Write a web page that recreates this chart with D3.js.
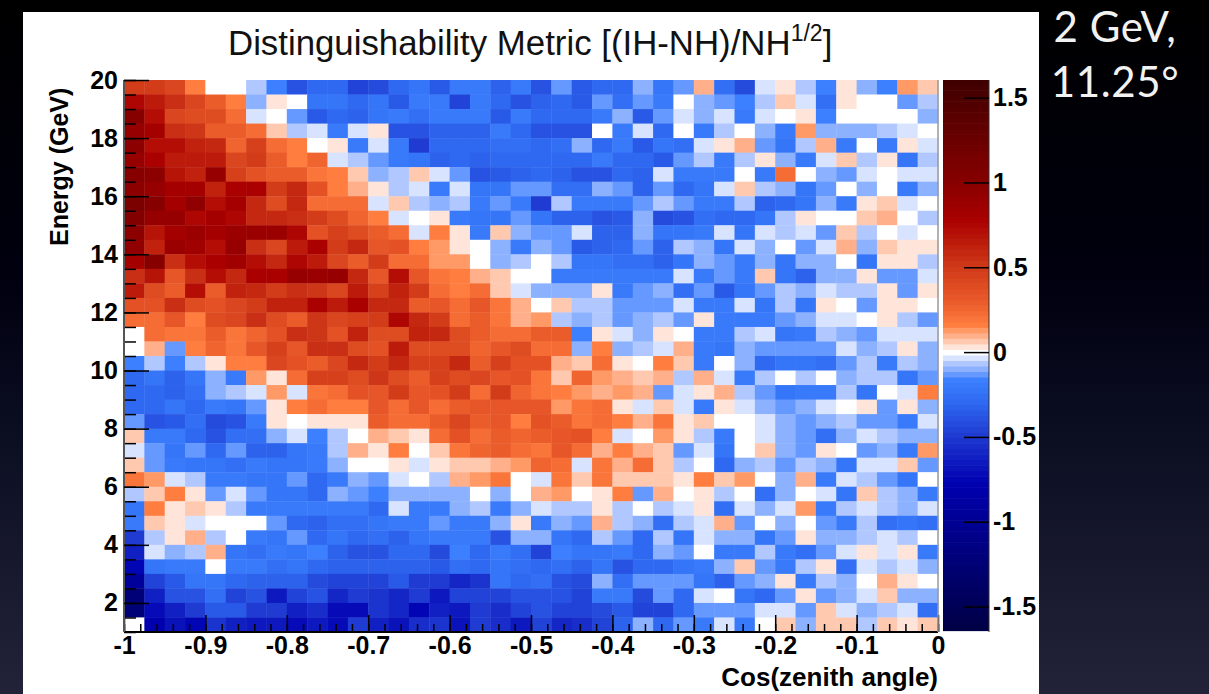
<!DOCTYPE html>
<html><head><meta charset="utf-8">
<script src="https://cdnjs.cloudflare.com/ajax/libs/d3/7.8.5/d3.min.js"></script>
<style>html,body{margin:0;padding:0;background:#000}svg{display:block}text{font-family:"Liberation Sans",Arial,sans-serif}</style>
</head><body><svg id="c" width="1209" height="694"></svg>
<script>
// Bin labels
const cosTicks = [-1,-0.9,-0.8,-0.7,-0.6,-0.5,-0.4,-0.3,-0.2,-0.1,0];
const cosTickLabels = ["-1","-0.9","-0.8","-0.7","-0.6","-0.5","-0.4","-0.3","-0.2","-0.1","0"];
const energyTicks = [2,4,6,8,10,12,14,16,18,20];
const barTicks = [-1.5,-1,-0.5,0,0.5,1,1.5];
const barTickLabels = ["-1.5","-1","-0.5","0","0.5","1","1.5"];
const cosRange = [-1,0];
const energyRange = [1,20];
const barRange = [-1.65,1.604];
const titleText = "Distinguishability Metric [(IH-NH)/NH";
const titleSup = "1/2";
const titleEnd = "]";
const cornerLines = ["2 GeV,","11.25°"];

// Metric per cell x100, rows from 20 GeV down to 1 GeV, columns from cos = -1 to 0
const metric = [
[48,48,42,16,0,0,-6,-17,-38,-30,-30,-45,-42,-30,-22,-35,-20,-20,-32,-18,-38,-13,-35,-30,-30,-10,-22,-13,10,-25,-42,-3,3,-6,-17,3,-10,-17,13,6],
[75,65,55,42,30,16,-10,3,0,-22,-22,-28,-22,-35,-18,-18,-45,-18,-28,-40,-32,-30,-35,-13,-25,-13,-18,0,-10,-13,-17,-6,6,-3,-25,3,0,0,-13,-6],
[100,72,42,40,38,22,-3,0,-13,-35,-28,-32,-22,-18,-25,-18,-18,-20,-35,-18,-30,-30,-28,-18,-10,-35,-13,-3,-10,-3,-20,-3,0,3,-17,0,0,0,0,-10],
[92,80,55,52,30,30,24,6,-6,-3,-20,-3,3,-38,-40,-32,-32,-32,-20,-28,-38,-40,-40,0,-20,-3,-28,0,-20,-6,0,-10,-20,13,-10,-10,-10,-6,-3,0],
[98,72,72,62,58,26,45,22,16,0,3,-18,-3,-20,-50,-30,-30,-30,-25,-25,-28,-25,-10,-28,-20,-35,-22,-26,-3,3,10,-13,-22,-6,10,-18,0,-18,3,-3],
[92,78,65,65,65,42,50,30,16,26,-3,-6,-13,-18,-22,-34,-28,-34,-28,-28,-28,-30,-28,-18,-28,-28,-36,-13,-6,-20,-6,3,-10,-20,-3,6,-6,3,-22,-6],
[102,96,68,62,90,46,36,28,28,18,16,6,-10,-6,6,-3,-13,-38,-36,-32,-30,-32,-38,-40,-30,-34,-3,-20,-20,-20,0,-20,22,0,-10,-13,-3,0,-3,-3],
[96,92,80,80,62,78,78,50,58,36,16,10,3,-6,-3,-18,-3,-22,-22,-13,-13,-25,-25,-10,-13,-32,-13,-30,-22,-3,6,-6,-10,-22,-13,0,-10,0,-20,-10],
[110,100,80,95,72,80,60,38,60,22,22,22,-3,6,-6,-10,-6,-20,-13,-18,-48,-6,-18,-20,-18,-13,-6,-13,-20,-18,-6,-32,-28,-24,-10,-18,3,6,-3,0],
[105,92,92,75,82,75,60,58,56,50,38,26,16,-3,0,3,-18,-22,-22,-13,-22,-32,-32,-38,-36,-10,-42,-38,-26,-30,-28,-22,-6,3,0,0,6,10,0,-6],
[98,68,80,88,82,88,88,88,74,36,44,38,30,24,-3,16,3,-18,6,-10,-13,-13,-3,-34,-34,-10,-22,-24,-20,-3,-24,-3,-6,-3,-13,6,-6,0,-3,0],
[95,62,88,86,72,90,56,42,66,78,50,60,32,36,16,13,3,0,-10,-18,-10,-13,-36,-34,-28,-13,-32,-6,-10,-24,-3,-10,0,-13,-3,10,-10,6,3,3],
[80,100,55,72,78,85,70,58,74,66,42,28,50,24,22,12,12,0,-10,-6,0,-6,-24,-24,-26,-26,-34,-22,-10,-13,-20,-10,-22,-10,-10,0,-24,3,3,-6],
[55,68,32,56,70,60,78,78,90,88,92,58,34,72,32,18,16,10,6,0,0,-18,-20,-20,-20,-18,-18,-3,-20,-13,-20,6,-24,-32,-10,-10,3,-13,-13,-3],
[65,40,30,72,30,62,58,50,54,52,42,64,46,62,48,22,16,22,6,-3,-10,-10,-10,3,-20,-13,-10,-25,-13,-36,-24,-13,-6,-10,-3,-6,-6,3,-13,3],
[36,36,55,40,36,42,50,62,62,78,66,78,58,58,30,34,24,32,20,10,0,6,-6,-6,-13,-13,-13,-3,-18,-20,-3,-22,-6,-22,3,0,-13,3,3,0],
[22,24,32,16,38,42,56,38,30,52,42,44,50,76,60,48,24,28,20,10,13,-6,-10,-6,-13,-10,-6,-13,3,-18,-20,-18,-13,-10,-3,-3,0,3,-6,-13],
[0,22,20,18,28,20,26,36,54,52,36,62,40,38,62,58,40,30,24,24,30,30,-17,3,-3,-10,3,0,-20,-20,-6,-3,-24,-20,-6,-10,-13,-3,-3,-3],
[0,10,-13,16,26,20,32,44,34,54,56,40,36,66,38,40,40,26,34,40,22,22,-10,16,-10,-6,-3,10,-20,-24,-10,-13,-13,-13,-13,-3,-10,-6,3,-10],
[-17,-6,-17,-6,3,16,16,42,36,30,42,60,48,58,44,44,58,28,44,36,36,10,6,22,3,0,16,6,-20,0,-10,-28,-24,-22,-26,-13,-6,-20,-6,-10],
[-28,-24,-32,-24,-10,-18,13,3,22,44,44,40,52,38,30,44,38,42,34,36,20,6,26,13,10,6,10,-6,10,-3,-20,-6,0,-6,0,-10,-6,-6,-24,-13],
[-28,-28,-34,-26,-10,-6,-3,13,-3,18,22,36,34,50,32,36,48,22,48,26,18,16,13,10,13,10,-13,-3,3,10,-6,-13,-22,-20,-20,-6,-24,0,-3,16],
[-28,-28,-24,-28,-18,-22,-13,3,16,22,16,16,34,24,34,24,30,32,32,32,32,13,20,24,3,-3,6,-3,-18,3,-3,-10,-13,-10,-3,0,3,-13,3,-10],
[-13,-40,-36,-26,-42,-40,-20,3,0,3,3,3,30,24,22,30,42,30,32,16,36,30,18,24,16,10,18,3,6,0,0,-3,-10,-13,-10,-6,-13,-13,-18,-3],
[6,-20,-18,-28,-40,-26,-26,-10,-3,-17,-6,0,10,6,3,24,36,24,30,26,30,32,36,16,-3,0,13,3,-6,-20,0,-3,-10,-13,-26,-10,-3,-6,-10,-10],
[-3,-13,-24,-13,-28,-13,-34,-34,-24,-18,-6,10,3,16,0,6,18,26,28,24,18,34,24,10,16,10,6,-13,-3,-22,0,6,-10,-13,3,0,-13,-10,-20,13],
[6,-13,-18,-22,-22,-26,-18,-22,-22,-20,-10,0,0,3,-3,3,6,6,10,13,26,22,-3,18,10,22,6,-6,0,-28,-10,-6,-13,-6,-10,-24,-3,-3,6,-13],
[18,13,-3,-6,-20,-18,-24,-24,-13,-28,-18,-10,-13,-3,0,-6,10,13,18,0,-3,18,6,18,6,6,6,3,16,6,13,0,-10,10,-20,-3,-6,-13,-24,0],
[-6,6,16,3,-13,-3,-13,-22,-24,-30,-10,-13,-17,-10,-10,-10,-10,0,-10,0,10,13,0,3,16,-13,10,0,3,-6,0,-26,-10,0,-3,-24,6,-6,-10,-18],
[-24,16,3,6,3,-6,-18,-18,-18,-18,-18,-18,-28,-3,-18,-18,-10,-6,-18,-10,-3,-6,-6,3,-6,0,-6,-3,3,-26,-3,-10,-3,13,-18,-6,-3,-6,-10,-3],
[-18,6,3,-3,0,0,0,-13,-28,-34,-26,-26,-22,-20,-18,-13,-20,-20,-10,3,-18,-10,-13,10,-6,-10,-26,-6,-3,10,-13,0,-10,0,-13,-18,-6,-26,-24,-26],
[-48,-6,3,10,-6,0,-18,-24,-13,-28,-22,-30,-26,-32,-22,-20,-20,-20,-40,-10,-10,-24,-30,-6,-13,-28,-6,-24,-3,-10,-10,-24,-13,3,-10,-10,-6,-3,-6,0],
[-62,-3,-10,-6,10,-22,-26,-20,-24,-17,-32,-38,-38,-30,-28,-42,-17,-30,-20,-26,-46,-17,-22,-24,-20,-30,-10,-13,0,-18,-18,-6,-20,-26,-13,-3,3,-3,3,-18],
[-75,-22,-18,-20,0,-18,-20,-26,-22,-30,-32,-34,-34,-34,-32,-36,-26,-30,-22,-26,-30,-26,-34,-24,-40,-28,-30,-24,-20,-10,6,-13,-20,-6,3,-26,-3,-6,-3,-10],
[-95,-45,-36,-24,-24,-30,-32,-34,-34,-42,-46,-46,-46,-36,-50,-50,-58,-52,-24,-28,-26,-40,-42,-10,-26,-13,-13,-13,-24,-32,-13,-10,3,-20,-6,-10,0,10,3,0],
[-125,-62,-38,-38,-26,-46,-40,-66,-44,-40,-60,-50,-52,-60,-50,-66,-46,-44,-44,-38,-38,-38,-44,-20,-20,-42,-13,-30,-3,0,-24,-28,-13,3,-13,-10,-3,6,-10,-10],
[-125,-70,-62,-50,-36,-36,-50,-50,-62,-54,-70,-70,-52,-58,-75,-62,-66,-50,-56,-46,-38,-44,-46,-42,-36,-46,-44,-30,-13,-13,-13,-3,-3,-13,6,-3,-10,-6,-3,-26],
[0,-78,-68,-76,-52,-62,-66,-66,-72,-66,-72,-50,-62,-68,-54,-52,-68,-50,-56,-66,-44,-60,-54,-44,-34,-10,-28,-13,-20,-3,-20,0,6,-10,6,6,-6,6,3,6]
];

// Palette anchors
const paletteStops = [-1.65,-0.77,-0.5,-0.3,-0.1625,-0.13,-0.0975,-0.065,-0.0325,0,0.0325,0.065,0.0975,0.13,0.1625,0.3,0.5,0.78,1.0,1.604];
const paletteColors = ["#000044","#0000b0","#1e38d0","#2e68f0","#3c80ff","#6699ff","#8cb2ff","#b0c8ff","#d8e4ff","#ffffff","#ffe4d9","#ffc9b0","#ffb08a","#ff9a66","#ff7d3f","#ea5a2a","#d03a18","#aa0000","#880000","#400000"];
const bandWidth = 0.0325;

const svg = d3.select("#c");
const defs = svg.append("defs");
const grad = defs.append("linearGradient").attr("id","bg").attr("x1",0).attr("y1",0).attr("x2",0).attr("y2",1);
[[0,"#000000"],[0.4,"#00000f"],[0.6,"#0a0c20"],[1,"#222338"]].forEach(s=>grad.append("stop").attr("offset",s[0]).attr("stop-color",s[1]));
svg.append("rect").attr("width",1209).attr("height",694).attr("fill","url(#bg)");
svg.append("rect").attr("x",23).attr("y",12).attr("width",1016).attr("height",682).attr("fill","#fff");

const plot = {l:124,r:938,t:80,b:632};
const bar = {l:943,r:989};

const palette = d3.scaleLinear().domain(paletteStops).range(paletteColors).clamp(true);
const band = v => palette(Math.round(v/bandWidth)*bandWidth);

const xBins = d3.scaleBand().domain(d3.range(metric[0].length)).range([plot.l,plot.r]);
const yBins = d3.scaleBand().domain(d3.range(metric.length)).range([plot.t,plot.b]);
const xAxisScale = d3.scaleLinear().domain(cosRange).range([plot.l,plot.r]);
const yAxisScale = d3.scaleLinear().domain(energyRange).range([plot.b,plot.t]);
const barScale = d3.scaleLinear().domain(barRange).range([plot.b,plot.t]);

svg.append("g").selectAll("g").data(metric).join("g")
  .attr("transform",(d,i)=>`translate(0,${yBins(i)})`)
  .selectAll("rect").data(d=>d).join("rect")
  .attr("x",(d,i)=>xBins(i)).attr("width",xBins.bandwidth()+0.4).attr("height",yBins.bandwidth()+0.4)
  .attr("fill",d=>band(d/100));

// Colour bar bands
const nLo = Math.ceil(barRange[0]/bandWidth), nHi = Math.floor(barRange[1]/bandWidth);
svg.append("g").selectAll("rect").data(d3.range(nLo,nHi+1)).join("rect")
  .attr("x",bar.l).attr("width",bar.r-bar.l)
  .attr("y",k=>Math.max(plot.t,barScale((k+0.5)*bandWidth)))
  .attr("height",k=>Math.min(plot.b,barScale((k-0.5)*bandWidth))-Math.max(plot.t,barScale((k+0.5)*bandWidth))+0.6)
  .attr("fill",k=>band(k*bandWidth));

const FS = 25;
function styleAxis(g){
  g.selectAll("text").attr("font-size",FS).attr("font-weight","bold").attr("fill","#000");
  g.selectAll("line").attr("stroke","#000").attr("stroke-width",1.5);
}
// x axis
const xMinor = d3.range(0,51).map(i=>-1+i*0.02);
const gxm = svg.append("g").attr("transform",`translate(0,${plot.b})`)
  .call(d3.axisBottom(xAxisScale).tickValues(xMinor).tickSize(-8).tickFormat(""));
gxm.select(".domain").remove(); gxm.selectAll("line").attr("stroke","#000").attr("stroke-width",1.5);
const gx = svg.append("g").attr("transform",`translate(0,${plot.b})`)
  .call(d3.axisBottom(xAxisScale).tickValues(cosTicks).tickSize(-17).tickPadding(4)
    .tickFormat((d,i)=>cosTickLabels[i]));
gx.select(".domain").attr("stroke","#000").attr("stroke-width",2).attr("d",`M${plot.l},0H${plot.r}`);
styleAxis(gx);
// y axis
const yMinor = d3.range(0,39).map(i=>1+i*0.5);
const gym = svg.append("g").attr("transform",`translate(${plot.l},0)`)
  .call(d3.axisLeft(yAxisScale).tickValues(yMinor).tickSize(-12).tickFormat(""));
gym.select(".domain").remove(); gym.selectAll("line").attr("stroke","#000").attr("stroke-width",1.5);
const gy = svg.append("g").attr("transform",`translate(${plot.l},0)`)
  .call(d3.axisLeft(yAxisScale).tickValues(energyTicks).tickSize(-25).tickPadding(6).tickFormat(d=>String(d)));
gy.select(".domain").attr("stroke","#555").attr("stroke-width",2).attr("d",`M0,${plot.t}V${plot.b}`);
styleAxis(gy);
// right frame
svg.append("line").attr("x1",plot.r).attr("x2",plot.r).attr("y1",plot.t).attr("y2",plot.b).attr("stroke","#999").attr("stroke-width",1.5);
// colour bar axis
const gb = svg.append("g").attr("transform",`translate(${bar.r},0)`)
  .call(d3.axisRight(barScale).tickValues(barTicks).tickSize(-25).tickPadding(4).tickFormat((d,i)=>barTickLabels[i]));
gb.select(".domain").attr("stroke","#333").attr("stroke-width",1).attr("d",`M0,${plot.t}V${plot.b}`);
styleAxis(gb);

// Titles
const t = svg.append("text").attr("x",228).attr("y",55).attr("font-size",34.8).attr("fill","#111");
t.append("tspan").text(titleText);
t.append("tspan").text(titleSup).attr("font-size",23).attr("dy",-14);
t.append("tspan").text(titleEnd).attr("dy",14);
svg.append("text").attr("x",plot.r).attr("y",686).attr("text-anchor","end").attr("font-size",26).attr("font-weight","bold").text("Cos(zenith angle)");
svg.append("text").attr("transform","translate(68,246) rotate(-90)").attr("font-size",25).attr("font-weight","bold").text("Energy (GeV)");

// Corner caption
svg.selectAll("text.corner").data(cornerLines).join("text").attr("class","corner")
  .attr("x",1115).attr("y",(d,i)=>42+i*55).attr("text-anchor","middle")
  .attr("fill","#f2f2f2").attr("font-size",42).attr("letter-spacing",0.6).style("font-family","Lato").text(d=>d);
</script></body></html>
